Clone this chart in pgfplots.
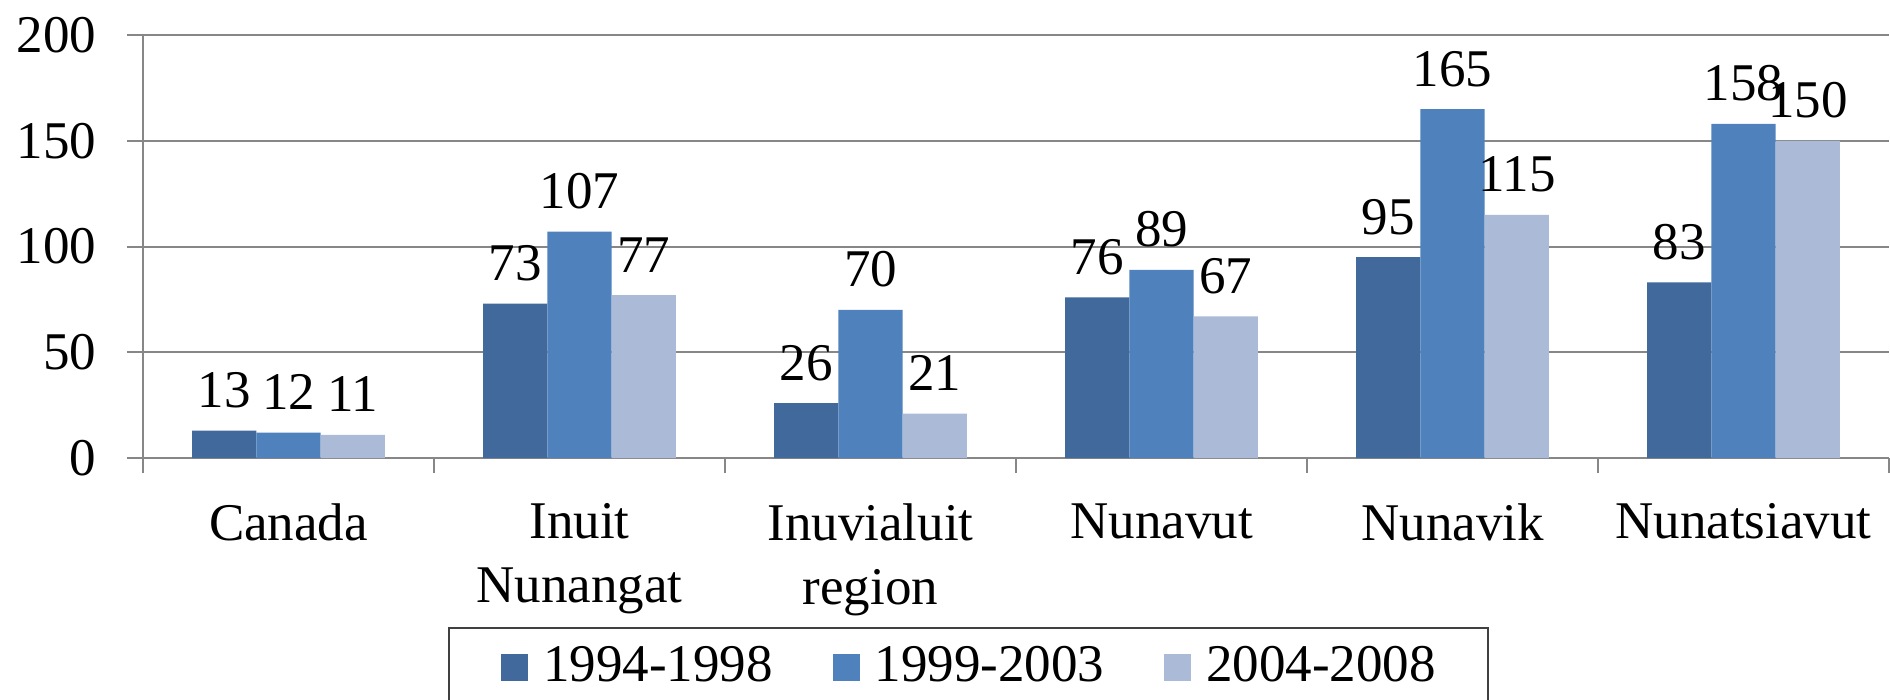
\documentclass[border=0pt]{standalone}
\usepackage{fontspec}
\setmainfont{Liberation Serif}
\usepackage{pgfplots}
\pgfplotsset{compat=1.18}
\definecolor{c1}{HTML}{41699B}
\definecolor{c2}{HTML}{4F81BD}
\definecolor{c3}{HTML}{AABAD7}
\definecolor{gridc}{HTML}{878787}
\begin{document}
\fontsize{13.25}{16}\selectfont
\begin{tikzpicture}
\begin{axis}[
  scale only axis, width=436.5pt, height=105.75pt,
  xmin=-0.5, xmax=5.5, ymin=0, ymax=200,
  axis x line*=bottom, axis y line*=left,
  axis line style={gridc, line width=0.5pt, -},
  ybar=0pt, bar width=16.07pt,
  xtick={0,...,5},
  xticklabels={Canada,{Inuit\\Nunangat},{Inuvialuit\\region},Nunavut,Nunavik,Nunatsiavut},
  xticklabel style={align=center, anchor=north, inner sep=0pt, yshift=-7.25pt},
  major x tick style={draw=none},
  minor xtick={-0.5,0.5,...,5.5},
  minor tick length=3.75pt, major tick length=4pt,
  tick align=outside,
  ytick={0,50,...,200},
  yticklabel style={anchor=east, inner sep=0pt, xshift=-7.5pt},
  /pgf/number format/assume math mode=true,
  ymajorgrids, grid style={gridc, line width=0.5pt},
  tick style={gridc, line width=0.5pt},
  nodes near coords,
  nodes near coords style={anchor=base, inner sep=0pt, yshift=5.75pt, text=black},
  legend columns=3,
  legend style={at={(0.1747,-0.3995)}, anchor=north west, draw=black!75, line width=0.5pt,
    inner xsep=13pt, inner ysep=4.5pt, nodes={inner sep=0pt},
    /tikz/every even column/.append style={column sep=15pt},
    /tikz/every odd column/.append style={column sep=3.75pt}},
  legend image code/.code={\fill[#1] (0pt,-3.375pt) rectangle (6.75pt,3.375pt);},
]
\addplot[fill=c1, draw=none] coordinates {(0,13) (1,73) (2,26) (3,76) (4,95) (5,83)};
\addplot[fill=c2, draw=none] coordinates {(0,12) (1,107) (2,70) (3,89) (4,165) (5,158)};
\addplot[fill=c3, draw=none] coordinates {(0,11) (1,77) (2,21) (3,67) (4,115) (5,150)};
\legend{1994-1998,1999-2003,2004-2008}
\end{axis}
\pgfresetboundingbox
\path ([shift={(-35.75pt,-60.25pt)}]current axis.south west) rectangle ([shift={(436.75pt,114.5pt)}]current axis.south west);
\end{tikzpicture}
\end{document}
